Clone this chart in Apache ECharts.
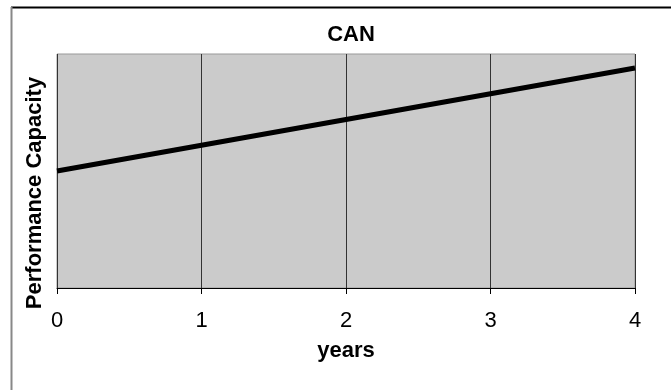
<!DOCTYPE html>
<html>
<head>
<meta charset="utf-8">
<script src="https://cdn.jsdelivr.net/npm/echarts@6/dist/echarts.min.js"></script>
<style>
  html, body { margin: 0; padding: 0; background: #fff; }
  #chart { width: 671px; height: 390px; }
</style>
</head>
<body>
<div id="chart"></div>
<script>
// Performance capacity over time (linear growth)
const years = [0, 1, 2, 3, 4];
const capacity = [50, 61, 72, 83, 94];
const xTicks = ['0', '1', '2', '3', '4'];

const FONT = 'Liberation Sans, Arial, sans-serif';
const chart = echarts.init(document.getElementById('chart'), null, { renderer: 'canvas' });

chart.setOption({
  backgroundColor: '#ffffff',
  animation: false,
  title: {
    text: 'CAN',
    left: 346,
    textAlign: 'center',
    top: 19,
    textStyle: { fontFamily: FONT, fontWeight: 'bold', fontSize: 22, color: '#000' }
  },
  grid: {
    left: 57, right: 36, top: 54, bottom: 102,
    show: true,
    backgroundColor: '#cbcbcb',
    borderColor: '#999999',
    borderWidth: 1
  },
  xAxis: {
    type: 'value',
    min: 0, max: 4, interval: 1,
    name: 'years',
    nameLocation: 'middle',
    nameGap: 52,
    nameTextStyle: { fontFamily: FONT, fontWeight: 'bold', fontSize: 22, color: '#000' },
    axisLine: { show: true, lineStyle: { color: '#000', width: 1 } },
    axisTick: { show: true, length: 6, lineStyle: { color: '#000' } },
    axisLabel: {
      fontFamily: FONT, fontSize: 22, color: '#000', margin: 22,
      formatter: v => xTicks[years.indexOf(v)] ?? ''
    },
    splitLine: { show: true, lineStyle: { color: '#333', width: 1 } }
  },
  yAxis: {
    type: 'value',
    min: 0, max: 100,
    axisLine: { show: false },
    axisTick: { show: false },
    axisLabel: { show: false },
    splitLine: { show: false }
  },
  series: [{
    type: 'line',
    data: years.map((x, i) => [x, capacity[i]]),
    symbol: 'none',
    lineStyle: { color: '#000', width: 5 }
  }],
  graphic: [
    { type: 'line', shape: { x1: 11, y1: 7.5, x2: 671, y2: 7.5 }, style: { stroke: '#000', lineWidth: 2 } },
    { type: 'line', shape: { x1: 11.5, y1: 7, x2: 11.5, y2: 390 }, style: { stroke: '#888', lineWidth: 2 } },
    {
      type: 'text', x: 35, y: 193, rotation: Math.PI / 2,
      style: {
        text: 'Performance Capacity', fill: '#000',
        font: 'bold 22px ' + FONT,
        textAlign: 'center', textVerticalAlign: 'middle'
      }
    }
  ]
});
</script>
</body>
</html>
